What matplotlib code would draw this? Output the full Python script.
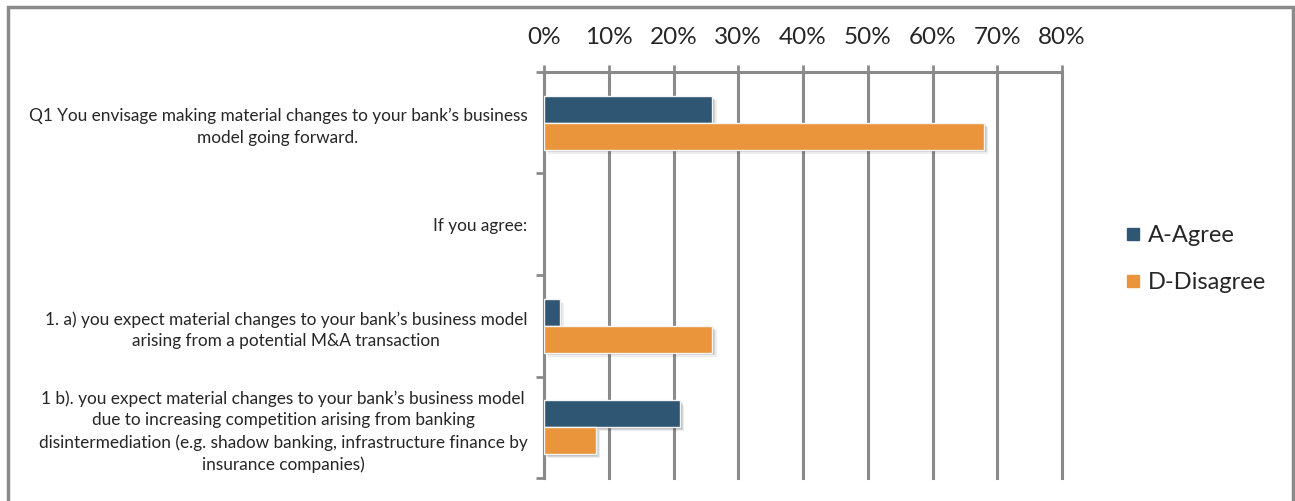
import matplotlib
matplotlib.use("Agg")
import matplotlib.pyplot as plt
import matplotlib.patheffects as pe
from matplotlib.patches import Rectangle
from matplotlib.lines import Line2D
import numpy as np

# Survey questions (top to bottom) and share of responses
categories = [
    "Q1 You envisage making material changes to your bank\u2019s business\nmodel going forward.",
    "If you agree:",
    "1. a) you expect material changes to your bank\u2019s business model\narising from a potential M&A transaction",
    "1 b). you expect material changes to your bank\u2019s business model\ndue to increasing competition arising from banking\ndisintermediation (e.g. shadow banking, infrastructure finance by\ninsurance companies)",
]
agree = [0.26, np.nan, 0.024, 0.21]
disagree = [0.68, np.nan, 0.26, 0.08]
series_names = ["A-Agree", "D-Disagree"]
xticks = [0.0, 0.1, 0.2, 0.3, 0.4, 0.5, 0.6, 0.7, 0.8]
xticklabels = ["0%", "10%", "20%", "30%", "40%", "50%", "60%", "70%", "80%"]

blue = "#2F5673"
orange = "#EA943C"
grid_gray = "#8A8A8A"
text_color = "#262626"

plt.rcParams["font.family"] = ["Lato", "DejaVu Sans"]

fig = plt.figure(figsize=(12.95, 5.01), dpi=100)
ax = fig.add_axes([0.4201, 0.0459, 0.4, 0.8104])

y = np.arange(len(categories))
h = 0.265
shadow = [
    pe.SimplePatchShadow(offset=(3.0, -3.0), shadow_rgbFace="#000000", alpha=0.07),
    pe.SimplePatchShadow(offset=(2.0, -2.0), shadow_rgbFace="#000000", alpha=0.10),
    pe.SimplePatchShadow(offset=(1.2, -1.2), shadow_rgbFace="#000000", alpha=0.12),
    pe.Normal(),
]
for vals, color, off in ((agree, blue, -h / 2), (disagree, orange, h / 2)):
    v = np.nan_to_num(np.array(vals, dtype=float))
    bars = ax.barh(y + off, v, height=h, color=color, edgecolor="#F4F4F4",
                   linewidth=1.0, zorder=3)
    for b, val in zip(bars, vals):
        if np.isnan(val):
            b.set_visible(False)
        b.set_path_effects(shadow)

ax.set_xlim(0, 0.8)
ax.set_ylim(len(categories) - 0.5, -0.5)

# x axis on top
ax.xaxis.tick_top()
ax.set_xticks(xticks)
ax.set_xticklabels(xticklabels, fontsize=17.5, color=text_color)
ax.tick_params(axis="x", which="major", direction="out", length=5, width=2,
               color=grid_gray, pad=12)
ax.grid(axis="x", color=grid_gray, linewidth=2.2, zorder=0)
for gl in ax.get_xgridlines():
    gl.set_clip_on(False)
ax.set_axisbelow(True)

# category labels with boundary ticks
ax.set_yticks(y)
ax.set_yticklabels(categories, fontsize=12.4, color=text_color,
                   multialignment="center", linespacing=1.42)
ax.set_yticks(np.arange(-0.5, len(categories)), minor=True)
ax.tick_params(axis="y", which="major", length=0, pad=12)
ax.tick_params(axis="y", which="minor", direction="out", length=6, width=2,
               color=grid_gray)

for side in ("right", "bottom"):
    ax.spines[side].set_visible(False)
for side in ("left", "top"):
    ax.spines[side].set_color(grid_gray)
    ax.spines[side].set_linewidth(2.2)

handles = [Line2D([], [], marker="s", linestyle="none", markersize=8,
                  markerfacecolor=c, markeredgecolor=c) for c in (blue, orange)]
fig.legend(handles, series_names, loc="center left",
           bbox_to_anchor=(0.8697, 0.483), frameon=False, fontsize=17,
           handlelength=0.6, handletextpad=0.3, labelspacing=1.12,
           borderaxespad=0, borderpad=0, labelcolor=text_color)

# outer frame
fig.add_artist(Rectangle((8 / 1295, -0.2), 1293 / 1295 - 8 / 1295, 1.2 - 7 / 501,
                         transform=fig.transFigure, fill=False,
                         edgecolor=grid_gray, linewidth=2.5))

fig.savefig("out.png", dpi=100)
